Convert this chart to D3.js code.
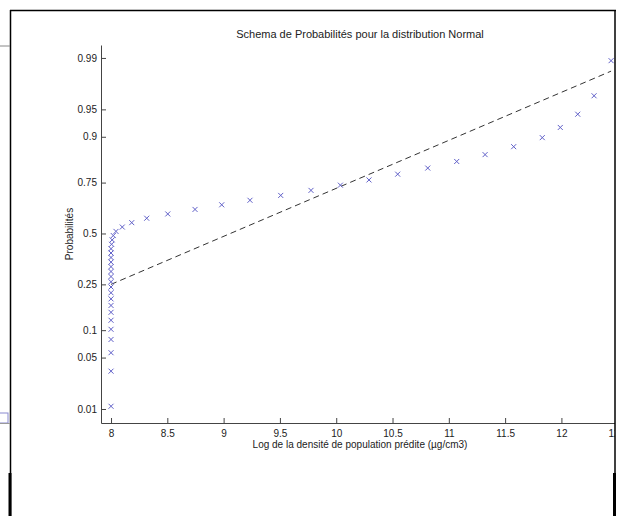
<!DOCTYPE html>
<html>
<head>
<meta charset="utf-8">
<script src="https://cdn.jsdelivr.net/npm/d3@7"></script>
<style>
  body { margin: 0; background: #fff; }
  svg { display: block; }
  text { font-family: "Liberation Sans", Arial, Helvetica, sans-serif; fill: #222; }
</style>
</head>
<body>
<script>
// sorted sample values (x) and their plotting probabilities (y)
const values = [
  8.0, 8.0, 8.0, 8.0, 8.0, 8.0, 8.0, 8.0, 8.0, 8.0,
  8.0, 8.0, 8.0, 8.0, 8.0, 8.0, 8.0, 8.0, 8.0, 8.005,
  8.01, 8.02, 8.044, 8.100, 8.184, 8.317, 8.504, 8.746, 8.983, 9.234,
  9.507, 9.776, 10.037, 10.291, 10.546, 10.813, 11.070, 11.322, 11.576, 11.830,
  11.990, 12.145, 12.290, 12.441
];
const probs = [
  0.011, 0.034, 0.057, 0.080, 0.102, 0.125, 0.148, 0.170, 0.193, 0.216,
  0.239, 0.261, 0.284, 0.307, 0.330, 0.352, 0.375, 0.398, 0.420, 0.443,
  0.466, 0.489, 0.511, 0.534, 0.557, 0.580, 0.602, 0.625, 0.648, 0.670,
  0.693, 0.716, 0.739, 0.761, 0.784, 0.807, 0.830, 0.852, 0.875, 0.898,
  0.920, 0.943, 0.966, 0.989
];

// reference line through the quartiles
const refQuart = [8.0, 10.12];
const refProbs = [0.25, 0.75];

const xTicks = [8, 8.5, 9, 9.5, 10, 10.5, 11, 11.5, 12, 12.5];
const yTicks = [0.01, 0.05, 0.1, 0.25, 0.5, 0.75, 0.9, 0.95, 0.99];
const yTickLabels = ["0.01", "0.05", "0.1", "0.25", "0.5", "0.75", "0.9", "0.95", "0.99"];

const titleText = "Schema de Probabilités pour la distribution Normal";
const xLabelText = "Log de la densité de population prédite (µg/cm3)";
const yLabelText = "Probabilités";

// inverse normal cdf (Acklam)
function probit(p) {
  const a = [-3.969683028665376e+01, 2.209460984245205e+02, -2.759285104469687e+02, 1.383577518672690e+02, -3.066479806614716e+01, 2.506628277459239e+00];
  const b = [-5.447609879822406e+01, 1.615858368580409e+02, -1.556989798598866e+02, 6.680131188771972e+01, -1.328068155288572e+01];
  const c = [-7.784894002430293e-03, -3.223964580411365e-01, -2.400758277161838e+00, -2.549732539343734e+00, 4.374664141464968e+00, 2.938163982698783e+00];
  const d = [7.784695709041462e-03, 3.224671290700398e-01, 2.445134137142996e+00, 3.754408661907416e+00];
  const plow = 0.02425;
  let q, r;
  if (p < plow) {
    q = Math.sqrt(-2 * Math.log(p));
    return (((((c[0]*q+c[1])*q+c[2])*q+c[3])*q+c[4])*q+c[5]) / ((((d[0]*q+d[1])*q+d[2])*q+d[3])*q+1);
  } else if (p <= 1 - plow) {
    q = p - 0.5; r = q * q;
    return (((((a[0]*r+a[1])*r+a[2])*r+a[3])*r+a[4])*r+a[5])*q / (((((b[0]*r+b[1])*r+b[2])*r+b[3])*r+b[4])*r+1);
  }
  q = Math.sqrt(-2 * Math.log(1 - p));
  return -(((((c[0]*q+c[1])*q+c[2])*q+c[3])*q+c[4])*q+c[5]) / ((((d[0]*q+d[1])*q+d[2])*q+d[3])*q+1);
}

const W = 622, H = 516;
const svg = d3.select("body").append("svg").attr("width", W).attr("height", H);

// figure is cropped at the right border
svg.append("clipPath").attr("id", "crop")
  .append("rect").attr("x", 0).attr("y", 0).attr("width", 615).attr("height", H);

const chart = svg.append("g").attr("clip-path", "url(#crop)");

const plotLeft = 101, plotTop = 45, plotBottom = 423;
const x = d3.scaleLinear().domain([7.911, 12.6]).range([plotLeft, plotLeft + (12.6 - 7.911) * 112.6]);
const y = d3.scaleLinear().domain([-2.512, 2.498]).range([plotBottom, plotTop]);

// axes (ticks point inward, matlab style)
const xAxis = d3.axisBottom(x).tickValues(xTicks).tickFormat(d3.format("")).tickSizeInner(-5).tickSizeOuter(0).tickPadding(7);
const gx = chart.append("g").attr("transform", `translate(0,${plotBottom})`).call(xAxis);

const yAxis = d3.axisLeft(y).tickValues(yTicks.map(probit))
  .tickFormat((d, i) => yTickLabels[i]).tickSizeInner(-5).tickSizeOuter(0).tickPadding(4);
const gy = chart.append("g").attr("transform", `translate(${plotLeft},0)`).call(yAxis);

[gx, gy].forEach(g => {
  g.select(".domain").attr("stroke", "#444");
  g.selectAll(".tick line").attr("stroke", "#444");
  g.selectAll(".tick text").attr("font-size", 10).attr("font-family", "Liberation Sans, Arial, sans-serif").attr("fill", "#222");
});

// reference line, dashed, from min to max of the data
const slope = (probit(refProbs[1]) - probit(refProbs[0])) / (refQuart[1] - refQuart[0]);
const lineEnds = d3.extent(values);
const refLine = d3.line().x(d => x(d)).y(d => y(probit(refProbs[0]) + slope * (d - refQuart[0])));
chart.append("path")
  .datum(lineEnds)
  .attr("d", refLine)
  .attr("fill", "none")
  .attr("stroke", "#333")
  .attr("stroke-width", 1)
  .attr("stroke-dasharray", "6,4");

// x markers
const s = 2.5;
chart.append("g").selectAll("path.pt")
  .data(values.map((v, i) => [v, probs[i]]))
  .join("path")
  .attr("class", "pt")
  .attr("d", d => {
    const px = x(d[0]), py = y(probit(d[1]));
    return `M${px - s},${py - s}L${px + s},${py + s}M${px - s},${py + s}L${px + s},${py - s}`;
  })
  .attr("stroke", "#6060c8")
  .attr("stroke-width", 1)
  .attr("fill", "none");

// labels
chart.append("text").attr("x", 360).attr("y", 38).attr("text-anchor", "middle")
  .attr("font-size", 11).text(titleText);
chart.append("text").attr("x", 360).attr("y", 448).attr("text-anchor", "middle")
  .attr("font-size", 10).text(xLabelText);
chart.append("text").attr("transform", `translate(73,234) rotate(-90)`).attr("text-anchor", "middle")
  .attr("font-size", 10).text(yLabelText);

// window frame bits around the figure
const frame = svg.append("g").attr("fill", "none");
frame.append("line").attr("x1", 10).attr("x2", 616).attr("y1", 10.5).attr("y2", 10.5).attr("stroke", "#000").attr("stroke-width", 1.5);
frame.append("line").attr("x1", 10.5).attr("x2", 10.5).attr("y1", 10).attr("y2", H).attr("stroke", "#000").attr("stroke-width", 1.5);
frame.append("line").attr("x1", 615).attr("x2", 615).attr("y1", 10).attr("y2", H).attr("stroke", "#000").attr("stroke-width", 1.5);
frame.append("line").attr("x1", 10).attr("x2", 10).attr("y1", 473).attr("y2", H).attr("stroke", "#000").attr("stroke-width", 3);
frame.append("line").attr("x1", 614.5).attr("x2", 614.5).attr("y1", 473).attr("y2", H).attr("stroke", "#000").attr("stroke-width", 3);
frame.append("line").attr("x1", 0).attr("x2", 10).attr("y1", 46).attr("y2", 46).attr("stroke", "#888").attr("stroke-width", 1);
frame.append("rect").attr("x", -1).attr("y", 413).attr("width", 9).attr("height", 10).attr("stroke", "#8a8ad0").attr("stroke-width", 1);
frame.append("line").attr("x1", 0).attr("x2", 10).attr("y1", 423.5).attr("y2", 423.5).attr("stroke", "#999").attr("stroke-width", 1);
</script>
</body>
</html>
